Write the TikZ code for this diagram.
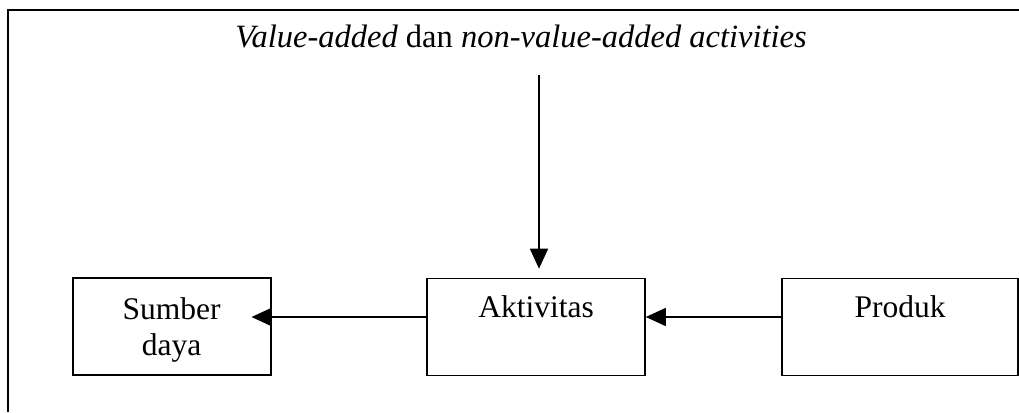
\documentclass[tikz,border=0pt]{standalone}
\usepackage{fontspec}
\setmainfont{Liberation Serif}
\usetikzlibrary{arrows.meta,positioning}
\begin{document}
\begin{tikzpicture}[x=1pt,y=-1pt,
  box/.style={draw, line width=1.6pt, minimum width=198pt, minimum height=97pt, inner sep=0pt},
  txt/.style={inner sep=0pt, align=center, font=\fontsize{31.5}{36}\selectfont},
  conn/.style={line width=1.6pt, -{Triangle[length=20pt,width=18pt]}}]
\useasboundingbox (0,0) rectangle (1019,412);
\fill[white] (0,0) rectangle (1019,412);
\coordinate (fl) at (8,412);
\coordinate (fc) at (8,10);
\coordinate (fr) at (1019,10);
\draw[line width=1.6pt] (fl) -- (fc) -- (fr);
\node[txt, anchor=base, font=\fontsize{32.5}{38}\selectfont] (title) at (521,48) {\textit{Value-added} dan \textit{non-value-added activities}};
\node[box] (sum) at (171.7,326.5) {};
\node[box, minimum width=218pt] (akt) at (536,327) {};
\node[box, minimum width=236pt] (pro) at (900,327) {};
\node[txt, anchor=north, below=20pt of sum.north] (sumt) {Sumber\\daya};
\node[txt, anchor=north, below=18pt of akt.north] (aktt) {Aktivitas};
\node[txt, anchor=north, below=18pt of pro.north] (prot) {Produk};
\coordinate (vtop) at (539,75);
\draw[conn, shorten >=9pt] (vtop) -- (vtop |- akt.north);
\draw[conn, shorten >=-20pt] (akt.west |- 0,317) -- (sum.east |- 0,317);
\draw[conn] (pro.west |- 0,317) -- (akt.east |- 0,317);
\end{tikzpicture}
\end{document}
